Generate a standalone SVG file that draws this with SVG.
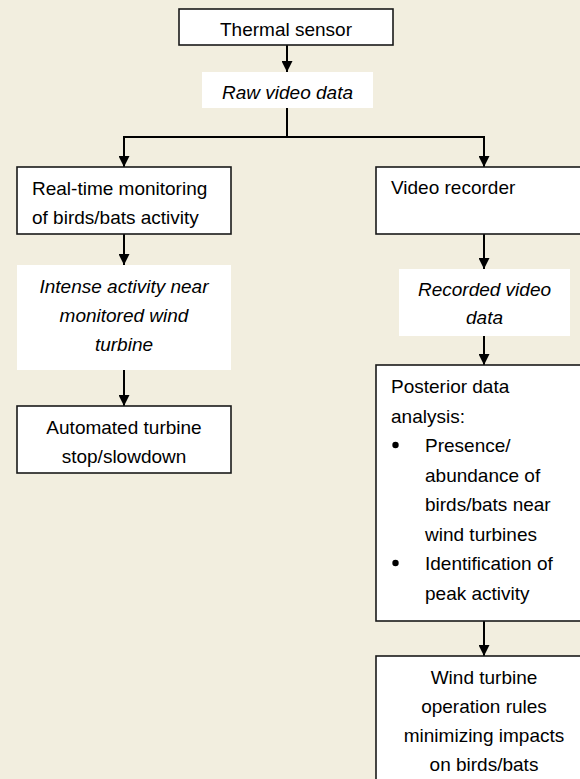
<svg xmlns="http://www.w3.org/2000/svg" width="580" height="779" viewBox="0 0 580 779">
<defs>
<style>
.box{fill:#ffffff;stroke:#1a1a1a;stroke-width:1.6}
.lbl{fill:#ffffff;stroke:none}
.t{font-family:"Liberation Sans",Arial,sans-serif;font-size:19px;fill:#000000}
.c{text-anchor:middle}
.i{font-style:italic}
.con{fill:none;stroke:#000000;stroke-width:2}
</style>
<marker id="ah" viewBox="0 0 10 10" refX="10" refY="5" markerWidth="11" markerHeight="11" markerUnits="userSpaceOnUse" orient="auto">
<path d="M0,0 L10,5 L0,10 Z" fill="#000000"/>
</marker>
</defs>
<rect width="580" height="779" fill="#F2EEDF"/>
<g id="connectors">
<line class="con" x1="287" y1="45" x2="287" y2="72" marker-end="url(#ah)"/>
<polyline class="con" points="287,108 287,137"/>
<polyline class="con" points="124,148 124,137 484,137 484,148"/>
<line class="con" x1="124" y1="137" x2="124" y2="167" marker-end="url(#ah)"/>
<line class="con" x1="484" y1="137" x2="484" y2="167" marker-end="url(#ah)"/>
<line class="con" x1="124" y1="234" x2="124" y2="265" marker-end="url(#ah)"/>
<line class="con" x1="124" y1="370" x2="124" y2="406" marker-end="url(#ah)"/>
<line class="con" x1="484" y1="234" x2="484" y2="269" marker-end="url(#ah)"/>
<line class="con" x1="484" y1="336" x2="484" y2="365" marker-end="url(#ah)"/>
<line class="con" x1="484" y1="621" x2="484" y2="656" marker-end="url(#ah)"/>
</g>
<g id="thermal">
<rect class="box" x="179" y="9" width="214" height="36"/>
<text class="t c" x="286" y="36">Thermal sensor</text>
</g>
<g id="raw">
<rect class="lbl" x="202" y="72" width="171" height="36"/>
<text class="t c i" x="287.5" y="99">Raw video data</text>
</g>
<g id="realtime">
<rect class="box" x="17" y="167" width="214" height="67"/>
<text class="t" x="32" y="195">Real-time monitoring</text>
<text class="t" x="32" y="224">of birds/bats activity</text>
</g>
<g id="intense">
<rect class="lbl" x="17" y="265" width="214" height="105"/>
<text class="t c i" x="124" y="293">Intense activity near</text>
<text class="t c i" x="124" y="322">monitored wind</text>
<text class="t c i" x="124" y="351">turbine</text>
</g>
<g id="automated">
<rect class="box" x="17" y="406" width="214" height="67"/>
<text class="t c" x="124" y="434">Automated turbine</text>
<text class="t c" x="124" y="463">stop/slowdown</text>
</g>
<g id="recorder">
<rect class="box" x="376" y="167" width="220" height="67"/>
<text class="t" x="391" y="194">Video recorder</text>
</g>
<g id="recorded">
<rect class="lbl" x="399" y="269" width="171" height="67"/>
<text class="t c i" x="484.5" y="296">Recorded video</text>
<text class="t c i" x="484.5" y="324">data</text>
</g>
<g id="posterior">
<rect class="box" x="376" y="365" width="220" height="256"/>
<text class="t" x="391" y="393">Posterior data</text>
<text class="t" x="391" y="422.5">analysis:</text>
<circle cx="395.5" cy="445" r="3.2" fill="#000000"/>
<text class="t" x="425" y="452">Presence/</text>
<text class="t" x="425" y="481.5">abundance of</text>
<text class="t" x="425" y="511">birds/bats near</text>
<text class="t" x="425" y="540.5">wind turbines</text>
<circle cx="395.5" cy="563" r="3.2" fill="#000000"/>
<text class="t" x="425" y="570">Identification of</text>
<text class="t" x="425" y="599.5">peak activity</text>
</g>
<g id="rules">
<rect class="box" x="376" y="656" width="220" height="140"/>
<text class="t c" x="484" y="684">Wind turbine</text>
<text class="t c" x="484" y="713">operation rules</text>
<text class="t c" x="484" y="742">minimizing impacts</text>
<text class="t c" x="484" y="771">on birds/bats</text>
</g>
</svg>
